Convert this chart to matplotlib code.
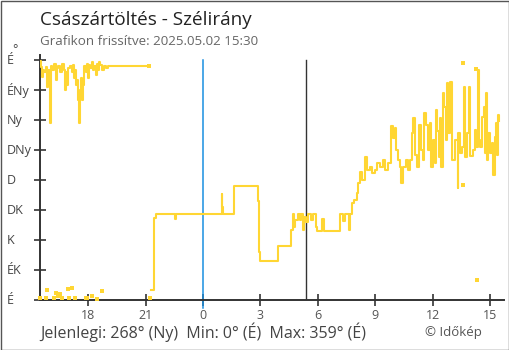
import matplotlib
matplotlib.use("Agg")
import matplotlib.pyplot as plt
import matplotlib.transforms as mtransforms
from matplotlib.patches import Rectangle

plt.rcParams['font.family'] = ['Open Sans', 'DejaVu Sans']

# idő órában éjfélhez (05.02 00:00) képest, irány fokban
ido_a = [-8.52, -8.47, -8.41, -8.36, -8.31, -8.21, -8.15, -8.10, -8.02, -8.00,
         -7.95, -7.89, -7.79, -7.68, -7.63, -7.58, -7.47, -7.37, -7.27, -7.21,
         -7.16, -7.11, -7.06, -6.95, -6.85, -6.80, -6.74, -6.69, -6.64, -6.59,
         -6.53, -6.48, -6.43, -6.38, -6.32, -6.27, -6.22, -6.12, -6.06, -6.01,
         -5.96, -5.91, -5.80, -5.75, -5.70, -5.59, -5.54, -5.49, -5.44, -5.38,
         -5.28, -5.18, -5.07, -4.97, -2.80]
irany_a = [359, 350, 335, 345, 342, 350, 320, 345, 277, 265,
           351, 345, 354, 330, 348, 351, 342, 354, 345, 315,
           342, 322, 348, 351, 342, 352, 333, 345, 322, 330,
           300, 265, 315, 333, 300, 322, 351, 342, 354, 333,
           352, 348, 357, 345, 351, 338, 354, 345, 357, 352,
           345, 351, 348, 351, 351]

ido_b = [-2.72, -2.55, -2.47, -1.45, -1.42, 0.97, 1.01, 1.05, 1.64, 2.86,
         2.94, 3.00, 3.94, 4.60, 4.68, 4.76, 4.81, 4.91, 4.97, 5.07,
         5.12, 5.23, 5.28, 5.38, 5.49, 5.65, 5.75, 5.91, 5.96, 6.22,
         6.32, 7.16, 7.32, 7.42, 7.63, 7.68, 7.79, 7.89, 8.03, 8.12,
         8.21, 8.31, 8.47, 8.57, 8.73, 8.83, 8.99, 9.10, 9.25, 9.41,
         9.51, 9.67, 9.83, 9.93, 10.04, 10.09, 10.19, 10.30, 10.35, 10.45,
         10.61, 10.72, 10.82, 10.93, 10.98, 11.08, 11.19, 11.29, 11.40, 11.50,
         11.55, 11.66, 11.76, 11.87, 11.92, 12.02, 12.12, 12.18, 12.23, 12.34,
         12.39, 12.44, 12.54, 12.60, 12.70, 12.75, 12.81, 12.91, 13.02, 13.17,
         13.31, 13.33, 13.43, 13.52, 13.64, 13.69, 13.80, 13.90, 13.95, 14.11,
         14.22, 14.27, 14.38, 14.43, 14.48, 14.58, 14.69, 14.74, 14.79, 14.85,
         14.90, 15.00, 15.11, 15.16, 15.26, 15.32, 15.37, 15.42, 15.49]
irany_b = [15, 123, 129, 121, 129, 159, 139, 129, 171, 148,
           72, 59, 81, 105, 129, 110, 120, 120, 129, 120,
           129, 105, 125, 117, 129, 120, 129, 110, 104, 122,
           104, 129, 118, 129, 105, 129, 145, 150, 160, 175,
           192, 180, 215, 195, 200, 190, 195, 205, 200, 210,
           195, 205, 261, 243, 258, 225, 210, 200, 175, 200,
           210, 195, 210, 250, 273, 217, 200, 262, 225, 210,
           280, 262, 225, 265, 200, 240, 205, 285, 253, 215,
           273, 200, 310, 290, 240, 325, 250, 327, 210, 240,
           168, 250, 220, 230, 320, 215, 250, 320, 216, 225,
           255, 230, 345, 240, 230, 275, 290, 220, 310, 210,
           250, 220, 235, 187, 245, 265, 218, 277, 268]

# különálló mérések (pontok)
ido_p = [-8.52, -8.21, -8.15, -7.79, -7.68, -7.58, -7.47, -7.37, -7.06, -7.00,
         -6.85, -6.69, -6.12, -6.06, -5.80, -5.54, -5.28, -2.80, -2.77,
         13.59, 13.59, 14.28, 14.31]
irany_p = [3, 3, 15, 3, 10, 6, 9, 3, 16, 3,
           18, 3, 3, 3, 6, 2, 13, 351, 3,
           356, 172, 347, 30]

x_ticks = [-6, -3, 0, 3, 6, 9, 12, 15]
x_labels = ['18', '21', '0', '3', '6', '9', '12', '15']
y_ticks = [0, 45, 90, 135, 180, 225, 270, 315, 360]
y_labels = ['É', 'ÉK', 'K', 'DK', 'D', 'DNy', 'Ny', 'ÉNy', 'É']

sarga = '#ffd633'

fig = plt.figure(figsize=(5.1, 3.5), dpi=100)
ax = fig.add_axes([40 / 510, 50 / 350, 464 / 510, 245 / 350])
ax.set_xlim(-8.52, 15.73)
ax.set_ylim(0, 367.5)

ax.plot(ido_a, irany_a, color=sarga, lw=1.5, drawstyle='steps-post', zorder=3)
ax.plot(ido_b, irany_b, color=sarga, lw=1.5, drawstyle='steps-post', zorder=3)
ax.plot(ido_p, irany_p, 's', color=sarga, ms=3, mew=0, zorder=3, clip_on=False)

# éjfél és napkelte
ax.plot([0, 0], [-12, 360], color='#1a8fe0', lw=1.1, clip_on=False, zorder=2)
ax.plot([5.38, 5.38], [0, 360], color='#333333', lw=1.0, zorder=2)

for s in ['top', 'right']:
    ax.spines[s].set_visible(False)
for s in ['left', 'bottom']:
    ax.spines[s].set_color('#333333')
    ax.spines[s].set_linewidth(1.4)

ax.set_xticks(x_ticks)
ax.set_xticklabels(x_labels)
ax.set_yticks(y_ticks)
ax.tick_params(axis='both', direction='inout', length=9, width=1.2, color='#333333')
ax.tick_params(axis='x', labelsize=9, labelcolor='#555555', pad=2)
ax.tick_params(axis='y', labelleft=False)

trans = mtransforms.blended_transform_factory(fig.transFigure, ax.transData)
for v, t in zip(y_ticks, y_labels):
    ax.text(7 / 510, v, t, transform=trans, ha='left', va='center',
            fontsize=9, color='#444444', clip_on=False)
fig.text(15 / 510, 1 - 50 / 350, '°', fontsize=9, color='#444444', ha='center', va='center')

fig.text(40 / 510, 1 - 25 / 350, 'Császártöltés - Szélirány', fontsize=13.6,
         color='#222222', ha='left', va='baseline')
fig.text(40 / 510, 1 - 45 / 350, 'Grafikon frissítve: 2025.05.02 15:30', fontsize=9.6,
         color='#666666', ha='left', va='baseline')
fig.text(40 / 510, 1 - 338.5 / 350, 'Jelenlegi: 268° (Ny)  Min: 0° (É)  Max: 359° (É)',
         fontsize=11.5, color='#444444', ha='left', va='baseline')
fig.text(482 / 510, 1 - 336 / 350, '© Időkép', fontsize=9.5, color='#555555',
         ha='right', va='baseline')

fig.patches.append(Rectangle((0.5 / 510, 0.5 / 350), 509 / 510, 349 / 350,
                             transform=fig.transFigure, fill=False,
                             edgecolor='#555555', lw=1.0))

fig.savefig('out.png', dpi=100)
